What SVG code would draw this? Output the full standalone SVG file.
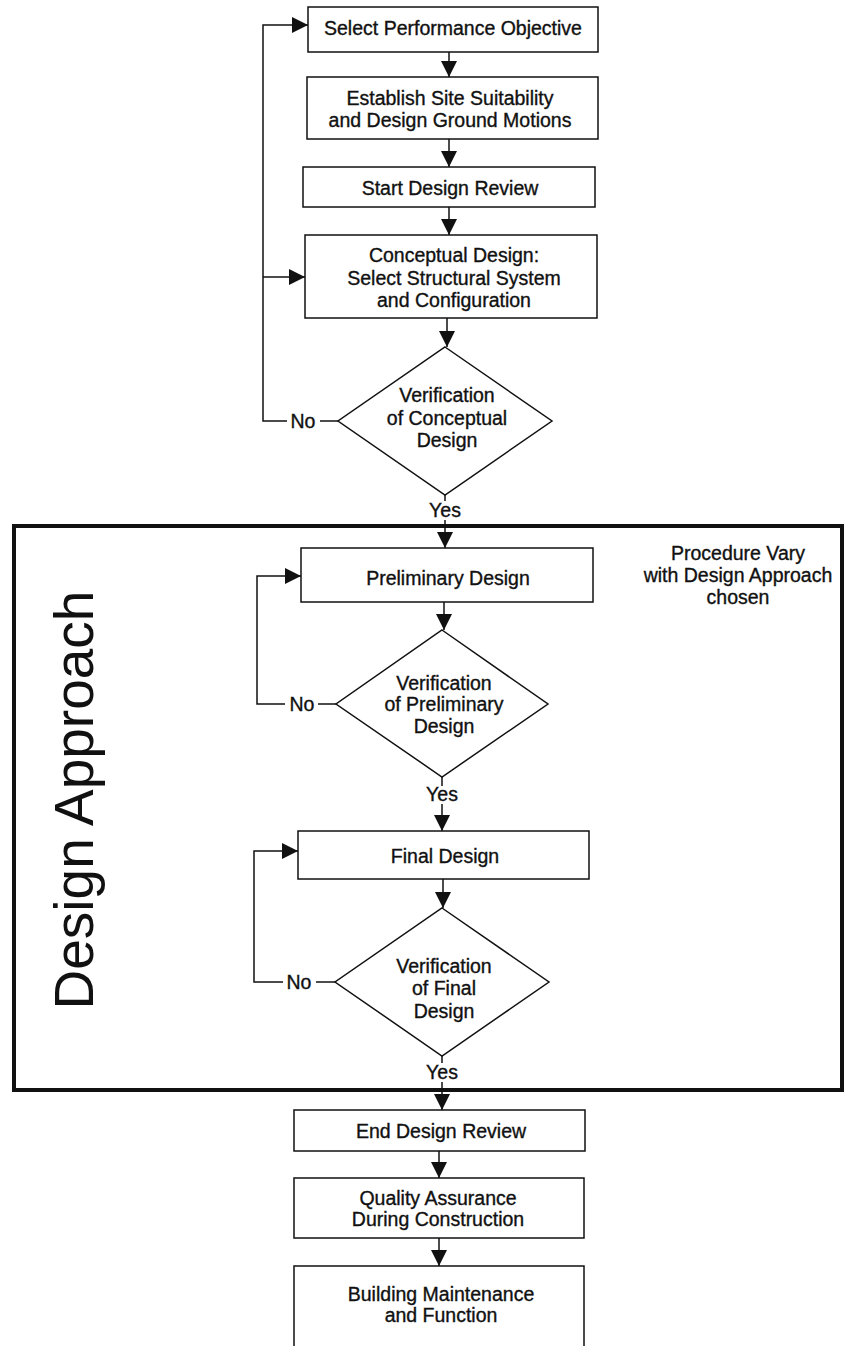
<svg xmlns="http://www.w3.org/2000/svg" width="844" height="1346" viewBox="0 0 844 1346">
  <defs>
    <style>
      .box{fill:#fff;stroke:#111;stroke-width:1.5}
      .t{font-family:"Liberation Sans",Arial,sans-serif;font-size:19.5px;fill:#111;stroke:#111;stroke-width:0.35;text-anchor:middle}
      .ln{fill:none;stroke:#111;stroke-width:1.5}
      .arr{marker-end:url(#ah)}
      .frame{fill:none;stroke:#111;stroke-width:4}
      .big{font-family:"Liberation Sans",Arial,sans-serif;font-size:55px;fill:#111;text-anchor:middle}
    </style>
    <marker id="ah" viewBox="0 0 16 16" refX="16" refY="8" markerWidth="16" markerHeight="16" markerUnits="userSpaceOnUse" orient="auto">
      <path d="M0,0 L16,8 L0,16 Z" fill="#111"/>
    </marker>
  </defs>

  <rect width="844" height="1346" fill="#fff"/>

  <!-- Design approach frame and its labels -->
  <g id="design-approach">
    <rect class="frame" x="14" y="526" width="828" height="564"/>
    <text class="big" transform="translate(93,800) rotate(-90)">Design Approach</text>
    <text class="t" x="738" y="560">Procedure Vary</text>
    <text class="t" x="738" y="582">with Design Approach</text>
    <text class="t" x="738" y="604">chosen</text>
  </g>

  <!-- Connectors -->
  <g id="connectors">
    <path class="ln arr" d="M449,52 V77"/>
    <path class="ln arr" d="M449,139 V167"/>
    <path class="ln arr" d="M449,207 V235"/>
    <path class="ln arr" d="M447,318 V347"/>
    <!-- conceptual design loop -->
    <path class="ln" d="M338,421 H320"/>
    <path class="ln arr" d="M287,421 H263 V25 H308"/>
    <path class="ln arr" d="M263,277 H305"/>
    <!-- into design approach -->
    <path class="ln" d="M445,495 V501"/>
    <path class="ln arr" d="M445,520 V548"/>
    <path class="ln arr" d="M444,602 V630"/>
    <!-- preliminary design loop -->
    <path class="ln" d="M336,704 H318"/>
    <path class="ln arr" d="M285,704 H257 V576 H301"/>
    <path class="ln" d="M442,777 V786"/>
    <path class="ln arr" d="M442,804 V831"/>
    <path class="ln arr" d="M443,879 V908"/>
    <!-- final design loop -->
    <path class="ln" d="M335,982 H316"/>
    <path class="ln arr" d="M283,982 H254 V851 H298"/>
    <path class="ln" d="M442,1056 V1063"/>
    <path class="ln arr" d="M442,1082 V1110"/>
    <path class="ln arr" d="M439,1151 V1178"/>
    <path class="ln arr" d="M439,1238 V1266"/>
  </g>

  <!-- Connector labels -->
  <g id="labels">
    <text class="t" x="303" y="428">No</text>
    <text class="t" x="445" y="517">Yes</text>
    <text class="t" x="302" y="711">No</text>
    <text class="t" x="442" y="801">Yes</text>
    <text class="t" x="299" y="989">No</text>
    <text class="t" x="442" y="1079">Yes</text>
  </g>

  <g id="select-objective">
    <rect class="box" x="308" y="7" width="290" height="45"/>
    <text class="t" x="453" y="35">Select Performance Objective</text>
  </g>

  <g id="site-suitability">
    <rect class="box" x="307" y="77" width="291" height="62"/>
    <text class="t" x="450" y="105">Establish Site Suitability</text>
    <text class="t" x="450" y="127">and Design Ground Motions</text>
  </g>

  <g id="start-review">
    <rect class="box" x="303" y="167" width="292" height="40"/>
    <text class="t" x="450" y="195">Start Design Review</text>
  </g>

  <g id="conceptual-design">
    <rect class="box" x="305" y="235" width="292" height="83"/>
    <text class="t" x="454" y="262">Conceptual Design:</text>
    <text class="t" x="454" y="285">Select Structural System</text>
    <text class="t" x="454" y="307">and Configuration</text>
  </g>

  <g id="verify-conceptual">
    <polygon class="box" points="445,347 552,421 445,495 338,421"/>
    <text class="t" x="447" y="402">Verification</text>
    <text class="t" x="447" y="425">of Conceptual</text>
    <text class="t" x="447" y="447">Design</text>
  </g>

  <g id="preliminary-design">
    <rect class="box" x="301" y="548" width="292" height="54"/>
    <text class="t" x="448" y="585">Preliminary Design</text>
  </g>

  <g id="verify-preliminary">
    <polygon class="box" points="442,630 548,704 442,777 336,704"/>
    <text class="t" x="444" y="690">Verification</text>
    <text class="t" x="444" y="711">of Preliminary</text>
    <text class="t" x="444" y="733">Design</text>
  </g>

  <g id="final-design">
    <rect class="box" x="298" y="831" width="291" height="48"/>
    <text class="t" x="445" y="863">Final Design</text>
  </g>

  <g id="verify-final">
    <polygon class="box" points="442,908 549,982 442,1056 335,982"/>
    <text class="t" x="444" y="973">Verification</text>
    <text class="t" x="444" y="995">of Final</text>
    <text class="t" x="444" y="1018">Design</text>
  </g>

  <g id="end-review">
    <rect class="box" x="294" y="1110" width="291" height="41"/>
    <text class="t" x="441" y="1138">End Design Review</text>
  </g>

  <g id="quality-assurance">
    <rect class="box" x="294" y="1178" width="290" height="60"/>
    <text class="t" x="438" y="1205">Quality Assurance</text>
    <text class="t" x="438" y="1226">During Construction</text>
  </g>

  <g id="building-maintenance">
    <rect class="box" x="294" y="1266" width="290" height="90"/>
    <text class="t" x="441" y="1301">Building Maintenance</text>
    <text class="t" x="441" y="1322">and Function</text>
  </g>
</svg>
